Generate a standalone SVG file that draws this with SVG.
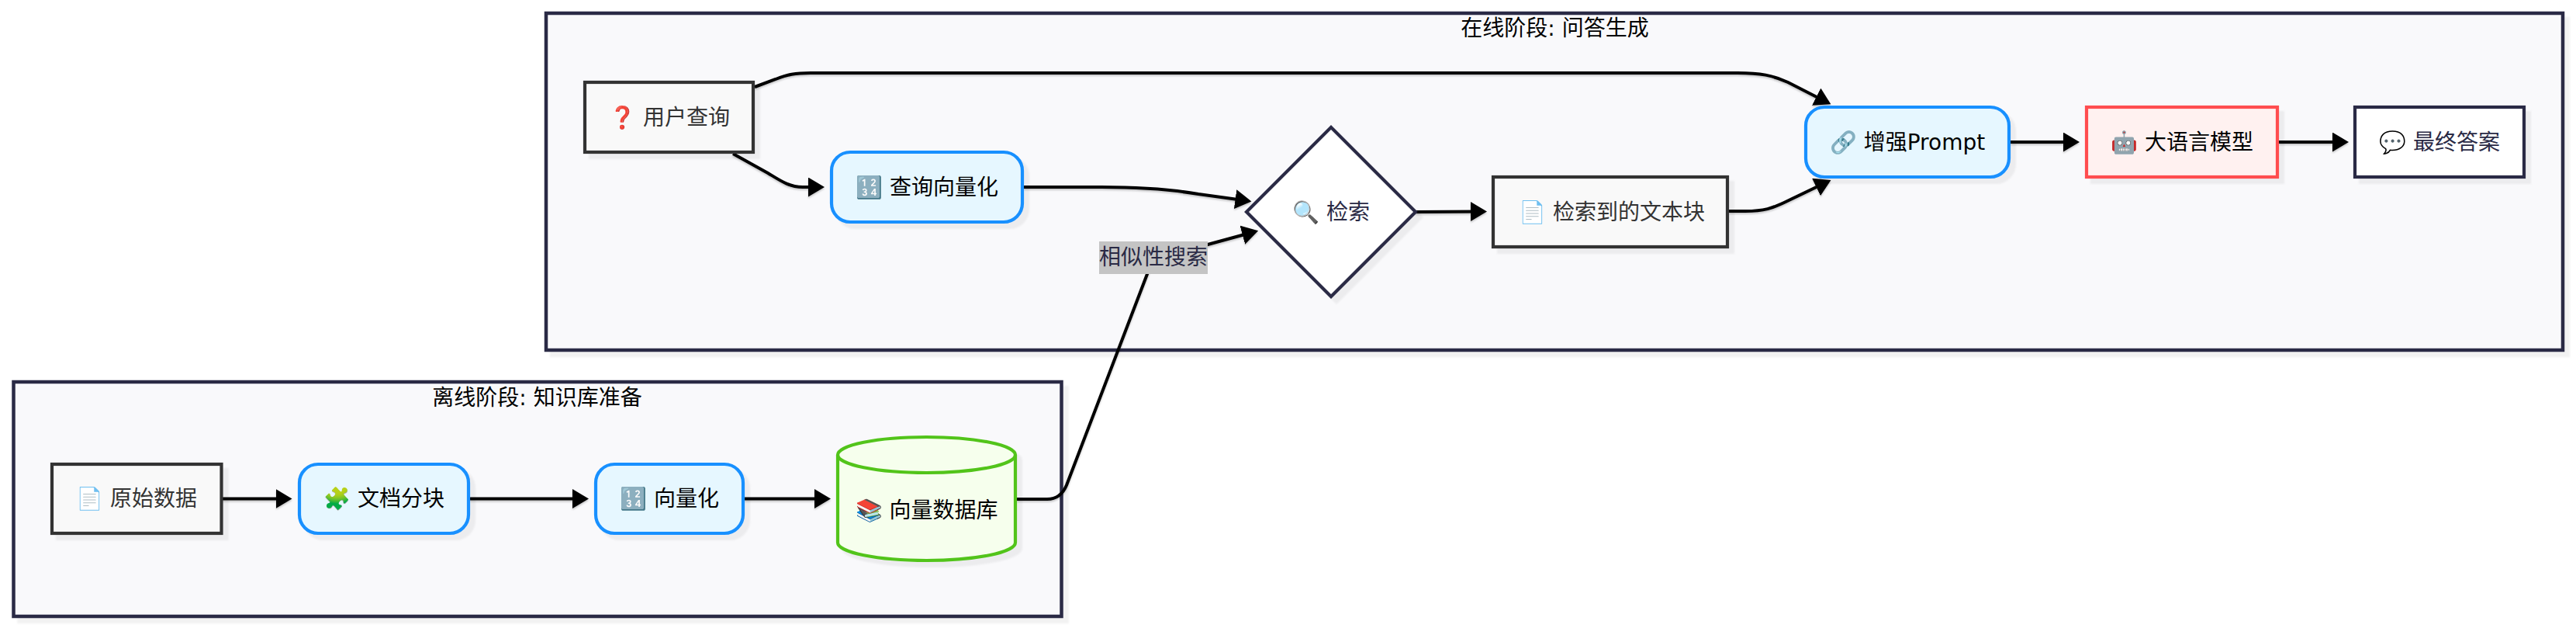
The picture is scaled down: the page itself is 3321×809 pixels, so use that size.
<svg xmlns="http://www.w3.org/2000/svg" width="3321" height="809" viewBox="0 0 3321 809">
<style>
text{font-family:"DejaVu Sans","Noto Sans CJK SC",sans-serif;font-size:28px;text-anchor:middle;dominant-baseline:central}
.s{filter:drop-shadow(7px 7px 1px rgba(0,0,0,.05))}
.ls{filter:drop-shadow(0 2px 1px rgba(0,0,0,.2))}
.cl{fill:#f9f9fb;stroke:#2a2a45;stroke-width:4.500}
.pl{fill:#f9f9f9;stroke:#333;stroke-width:4.200}
.pr{fill:#e6f7ff;stroke:#1890ff;stroke-width:4.200}
.ll{fill:#fff1f0;stroke:#ff4d4f;stroke-width:4.200}
.db{fill:#f6ffed;stroke:#52c41a;stroke-width:4.200}
.wh{fill:#fff;stroke:#2a2a45;stroke-width:4.200}
.e{fill:none;stroke:#000;stroke-width:4}
.t1{fill:#000}.t2{fill:#333}.t3{fill:#2a2a45}
</style>
<defs><marker id="a" markerUnits="userSpaceOnUse" markerWidth="22" markerHeight="26" refX="10.5" refY="12.5" orient="auto"><path d="M0,0L21,12.5L0,25z" fill="#000"/></marker></defs>
<g id="cluster-online"><rect class="cl s" x="704" y="17" width="2600" height="434"/><text class="t1" x="2004.5" y="36">在线阶段: 问答生成</text></g>
<g id="cluster-offline"><rect class="cl s" x="17.5" y="492" width="1351" height="302"/><text class="t1" x="692.5" y="512">离线阶段: 知识库准备</text></g>
<g id="connectors">
<path class="e ls" marker-end="url(#a)" d="M973,112L1000,102C1015,96 1025,94 1045,94L2240,94C2270,94 2285,97 2305,106L2351,129.5"/>
<path class="e ls" marker-end="url(#a)" d="M945,198L990,223C1005,232 1017,241 1035,241L1052.500,241"/>
<path class="e ls" marker-end="url(#a)" d="M1320,241L1420,241C1470,241 1510,244 1545,250L1603,258"/>
<path class="e ls" marker-end="url(#a)" d="M1311,643L1350,643C1362,643 1370,637 1375,625L1479,353L1490,325C1497,318 1520,326 1557,315L1612,300"/>
<path class="e ls" marker-end="url(#a)" d="M1825,273L1906.500,272.500"/>
<path class="e ls" marker-end="url(#a)" d="M2229,272L2250,272C2275,272 2285,268 2300,261L2351,236.500"/>
<path class="e ls" marker-end="url(#a)" d="M2592,183L2670.500,183"/>
<path class="e ls" marker-end="url(#a)" d="M2938,183L3017.500,183"/>
<path class="e ls" marker-end="url(#a)" d="M287,642.500L366,642.500"/>
<path class="e ls" marker-end="url(#a)" d="M606,642.500L748.500,642.500"/>
<path class="e ls" marker-end="url(#a)" d="M960,642.500L1060.500,642.500"/>
</g>
<g id="edge-label"><rect x="1417" y="311" width="140" height="42" fill="#c4c4c4"/><text class="t3" x="1487" y="331">相似性搜索</text></g>
<g id="n-query"><rect class="pl s" x="754" y="106" width="217" height="90"/><text class="t2" x="863" y="151">❓ 用户查询</text></g>
<g id="n-qvec"><rect class="pr s" x="1072" y="196" width="246" height="90" rx="24"/><text class="t1" x="1195" y="241">🔢 查询向量化</text></g>
<g id="n-search"><path class="wh s" d="M1716,164L1825,273L1716,382L1607,273z"/><text class="t3" x="1716" y="273">🔍 检索</text></g>
<g id="n-chunks"><rect class="pl s" x="1925" y="228" width="302" height="90"/><text class="t2" x="2078" y="273">📄 检索到的文本块</text></g>
<g id="n-prompt"><rect class="pr s" x="2328" y="138" width="262" height="90" rx="24"/><text class="t1" x="2459" y="183">🔗 增强Prompt</text></g>
<g id="n-llm"><rect class="ll s" x="2690" y="138" width="246" height="90"/><text class="t1" x="2813" y="183">🤖 大语言模型</text></g>
<g id="n-final"><rect class="wh s" x="3036" y="138" width="218" height="90"/><text class="t3" x="3145" y="183">💬 最终答案</text></g>
<g id="n-raw"><rect class="pl s" x="67" y="598" width="218.500" height="89"/><text class="t2" x="176" y="642.500">📄 原始数据</text></g>
<g id="n-split"><rect class="pr s" x="386" y="598" width="218" height="89" rx="24"/><text class="t1" x="495" y="642.500">🧩 文档分块</text></g>
<g id="n-vec"><rect class="pr s" x="768" y="598" width="190" height="89" rx="24"/><text class="t1" x="863" y="642.500">🔢 向量化</text></g>
<g id="n-db"><path class="db s" d="M1080,586A114.500,23 0 0 1 1309,586L1309,699A114.500,23 0 0 1 1080,699z"/><path class="db" d="M1080,586A114.500,23 0 0 0 1309,586" style="fill:none"/><text class="t1" x="1194.500" y="657">📚 向量数据库</text></g>
</svg>
